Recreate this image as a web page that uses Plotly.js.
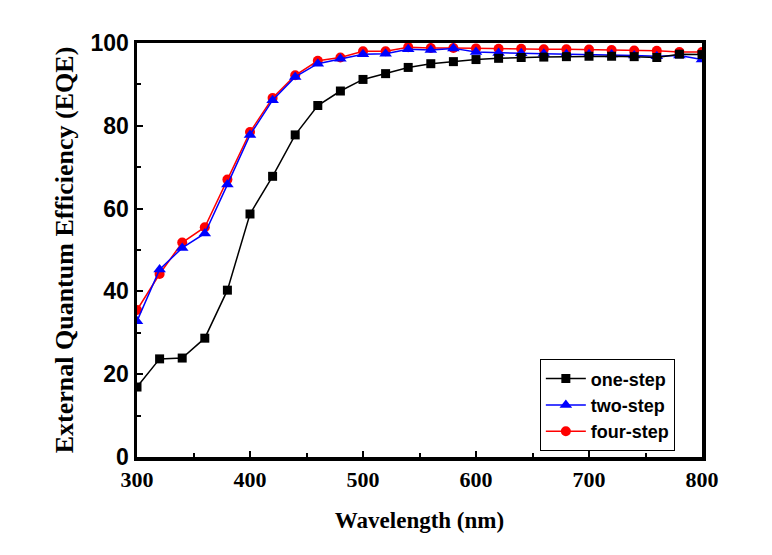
<!DOCTYPE html>
<html>
<head>
<meta charset="utf-8">
<script src="https://cdn.plot.ly/plotly-3.0.1.min.js"></script>
<style>html,body{margin:0;padding:0;background:#fff;}#chart{width:772px;height:555px;}</style>
</head>
<body>
<div id="chart"></div>
<script>
const wavelength = [300,320,340,360,380,400,420,440,460,480,500,520,540,560,580,600,620,640,660,680,700,720,740,760,780,800];
const oneStep = [16.9,23.7,23.9,28.7,40.3,58.7,67.8,77.8,84.9,88.4,91.2,92.6,94.1,95.0,95.5,96.0,96.3,96.5,96.6,96.7,96.8,96.8,96.7,96.5,97.3,97.2];
const twoStep = [32.8,45.3,50.5,54.0,65.8,77.8,86.2,91.8,95.0,96.2,97.3,97.4,98.5,98.3,98.7,97.8,97.6,97.5,97.4,97.3,97.3,97.2,97.0,96.8,97.0,96.0];
const fourStep = [35.5,44.2,51.8,55.5,67.0,78.5,86.7,92.2,95.7,96.5,98.0,98.0,99.0,98.8,98.8,98.7,98.6,98.6,98.5,98.5,98.4,98.3,98.2,98.1,97.8,97.8];
const seriesNames = ['one-step','two-step','four-step'];

const traces = [
  {x: wavelength, y: oneStep, name: seriesNames[0], mode: 'lines+markers', legendrank: 1,
   line: {color: '#000000', width: 1.5}, marker: {symbol: 'square', size: 9, color: '#000000'}},
  {x: wavelength, y: twoStep, name: seriesNames[1], mode: 'lines+markers', legendrank: 2,
   line: {color: '#0000ff', width: 1.5}, marker: {symbol: 'triangle-up', size: 11, color: '#0000ff'}},
  {x: wavelength, y: fourStep, name: seriesNames[2], mode: 'lines+markers', legendrank: 3,
   line: {color: '#ff0000', width: 1.5}, marker: {symbol: 'circle', size: 10, color: '#ff0000'}}
];
const ordered = [traces[2], traces[1], traces[0]];

const serif = 'Liberation Serif, Times New Roman, serif';
const sans = 'Liberation Sans, Arial, sans-serif';

const layout = {
  width: 772, height: 555,
  margin: {l: 137, r: 70, t: 43, b: 98},
  paper_bgcolor: '#ffffff', plot_bgcolor: '#ffffff',
  showlegend: true,
  legend: {x: 0.713, y: 0.236, xanchor: 'left', yanchor: 'top',
    bordercolor: '#000', borderwidth: 1, bgcolor: '#fff',
    font: {family: sans, size: 18, weight: 'bold', color: '#000'},
    tracegroupgap: 0, itemwidth: 40},
  xaxis: {range: [300, 800], dtick: 100, tick0: 300, ticks: 'inside', ticklen: 6, tickwidth: 2, tickcolor: '#000',
    showline: true, linewidth: 3.5, linecolor: '#000', mirror: true, showgrid: false, zeroline: false,
    minor: {dtick: 50, ticks: 'inside', ticklen: 4, tickwidth: 2, tickcolor: '#000', showgrid: false},
    tickfont: {family: serif, size: 22, weight: 'bold', color: '#000'},
    title: {text: 'Wavelength (nm)', standoff: 22,
      font: {family: serif, size: 23, weight: 'bold', color: '#000'}}},
  yaxis: {range: [0, 100], dtick: 20, ticks: 'inside', ticklen: 6, tickwidth: 2, tickcolor: '#000',
    showline: true, linewidth: 3.5, linecolor: '#000', mirror: true, showgrid: false, zeroline: false,
    minor: {dtick: 10, ticks: 'inside', ticklen: 4, tickwidth: 2, tickcolor: '#000', showgrid: false},
    tickfont: {family: sans, size: 23, weight: 'bold', color: '#000'},
    title: {text: 'External Quantum Efficiency (EQE)', standoff: 10,
      font: {family: serif, size: 26, weight: 'bold', color: '#000'}}}
};

Plotly.newPlot('chart', ordered, layout, {displayModeBar: false, staticPlot: true});
</script>
</body>
</html>
